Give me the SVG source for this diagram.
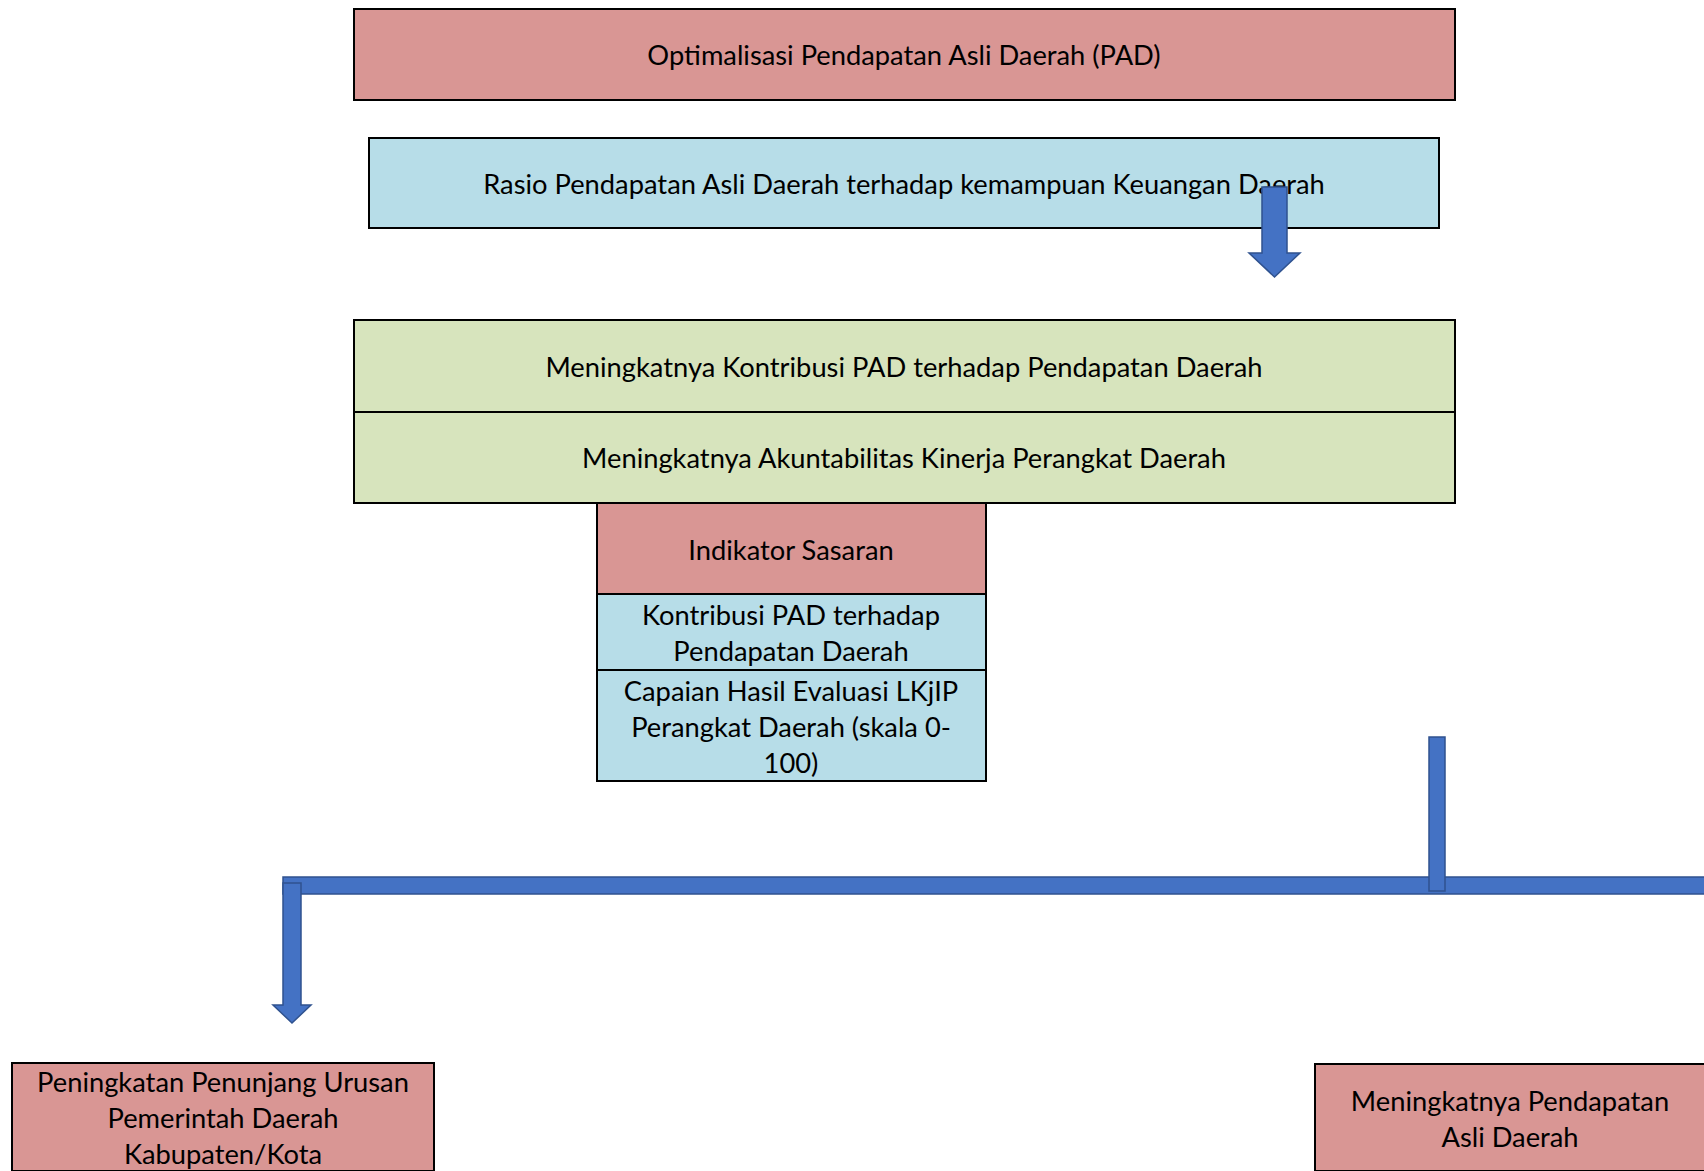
<svg xmlns="http://www.w3.org/2000/svg" width="1704" height="1171" viewBox="0 0 1704 1171">
<style>
.box{stroke:#000;stroke-width:2}
.pink{fill:#D99694}
.blue{fill:#B7DDE8}
.green{fill:#D7E4BD}
.t{font-family:Lato,"Open Sans","Liberation Sans",sans-serif;font-size:27.3px;fill:#000;text-anchor:middle;dominant-baseline:central}
.arr{fill:#4472C4;stroke:#2F528F;stroke-width:1.5}
</style>
<rect width="1704" height="1171" fill="#fff"/>
<g id="node-optimalisasi">
<rect class="box pink" x="354" y="9" width="1101" height="91"/>
<text class="t" x="904" y="54">Optimalisasi Pendapatan Asli Daerah (PAD)</text>
</g>
<g id="node-rasio">
<rect class="box blue" x="369" y="138" width="1070" height="90"/>
<text class="t" x="904" y="183">Rasio Pendapatan Asli Daerah terhadap kemampuan Keuangan Daerah</text>
</g>
<g id="node-kontribusi">
<rect class="box green" x="354" y="320" width="1101" height="92"/>
<text class="t" x="904" y="366">Meningkatnya Kontribusi PAD terhadap Pendapatan Daerah</text>
</g>
<g id="node-akuntabilitas">
<rect class="box green" x="354" y="412" width="1101" height="91"/>
<text class="t" x="904" y="457">Meningkatnya Akuntabilitas Kinerja Perangkat Daerah</text>
</g>
<g id="node-indikator">
<rect class="box pink" x="597" y="503" width="389" height="91"/>
<text class="t" x="791" y="549">Indikator Sasaran</text>
</g>
<g id="node-ind-kontribusi">
<rect class="box blue" x="597" y="594" width="389" height="76"/>
<text class="t" x="791" y="614">Kontribusi PAD terhadap</text>
<text class="t" x="791" y="650">Pendapatan Daerah</text>
</g>
<g id="node-ind-lkjip">
<rect class="box blue" x="597" y="670" width="389" height="111"/>
<text class="t" x="791" y="690">Capaian Hasil Evaluasi LKjIP</text>
<text class="t" x="791" y="726">Perangkat Daerah (skala 0-</text>
<text class="t" x="791" y="762">100)</text>
</g>
<g id="node-penunjang">
<rect class="box pink" x="12" y="1063" width="422" height="108"/>
<text class="t" x="223" y="1081">Peningkatan Penunjang Urusan</text>
<text class="t" x="223" y="1117">Pemerintah Daerah</text>
<text class="t" x="223" y="1153">Kabupaten/Kota</text>
</g>
<g id="node-pad">
<rect class="box pink" x="1315" y="1064" width="400" height="107"/>
<text class="t" x="1510" y="1100">Meningkatnya Pendapatan</text>
<text class="t" x="1510" y="1136">Asli Daerah</text>
</g>
<g id="connectors">
<path class="arr" d="M1262,187 H1287 V253 H1300 L1274.5,277 L1249,253 H1262 Z"/>
<rect class="arr" x="283" y="877" width="1430" height="17"/>
<path class="arr" d="M283,883 H301 V1005 H311 L292,1023 L273,1005 H283 Z"/>
<rect class="arr" x="1429" y="737" width="16" height="154"/>
</g>
</svg>
